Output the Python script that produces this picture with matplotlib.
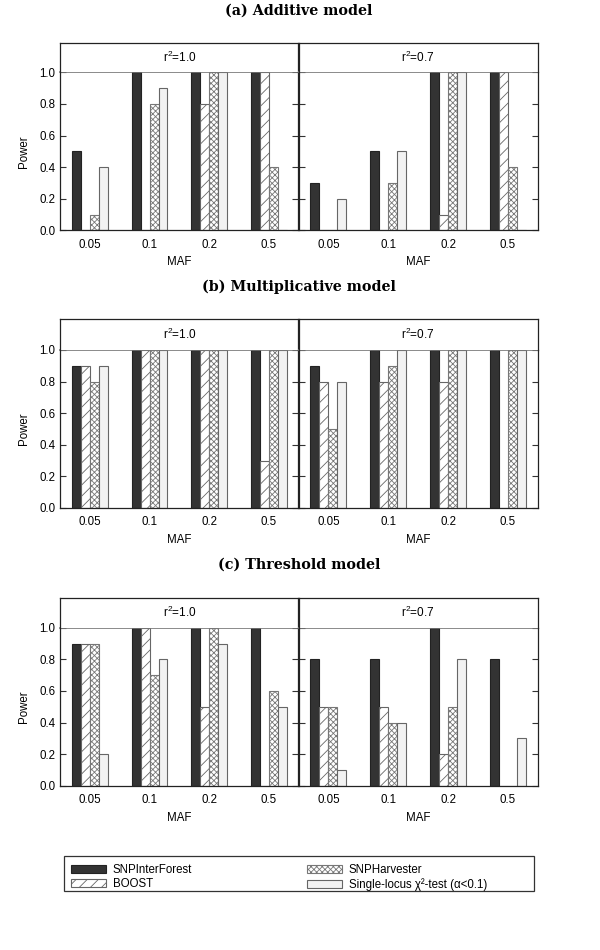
import matplotlib
matplotlib.use("Agg")
import matplotlib.pyplot as plt
from matplotlib.patches import Patch, Rectangle
import numpy as np

plt.rcParams['font.family'] = ['Liberation Sans', 'DejaVu Sans']
plt.rcParams['mathtext.fontset'] = 'custom'
plt.rcParams['mathtext.rm'] = 'Liberation Sans'
plt.rcParams['mathtext.it'] = 'Liberation Sans:italic'
plt.rcParams['hatch.linewidth'] = 0.6

maf_labels = ["0.05", "0.1", "0.2", "0.5"]
methods = ["SNPInterForest", "BOOST", "SNPHarvester", "Single-locus χ²-test (α<0.1)"]
panel_titles = ["(a) Additive model", "(b) Multiplicative model", "(c) Threshold model"]
facet_labels = ["r$^{2}$=1.0", "r$^{2}$=0.7"]

# values[method] per MAF, for r2=1.0 and r2=0.7
additive_r10 = {
    "SNPInterForest": [0.5, 1.0, 1.0, 1.0],
    "BOOST":          [0.0, 0.0, 0.8, 1.0],
    "SNPHarvester":   [0.1, 0.8, 1.0, 0.4],
    "Single":         [0.4, 0.9, 1.0, 0.0],
}
additive_r07 = {
    "SNPInterForest": [0.3, 0.5, 1.0, 1.0],
    "BOOST":          [0.0, 0.0, 0.1, 1.0],
    "SNPHarvester":   [0.0, 0.3, 1.0, 0.4],
    "Single":         [0.2, 0.5, 1.0, 0.0],
}
multiplicative_r10 = {
    "SNPInterForest": [0.9, 1.0, 1.0, 1.0],
    "BOOST":          [0.9, 1.0, 1.0, 0.3],
    "SNPHarvester":   [0.8, 1.0, 1.0, 1.0],
    "Single":         [0.9, 1.0, 1.0, 1.0],
}
multiplicative_r07 = {
    "SNPInterForest": [0.9, 1.0, 1.0, 1.0],
    "BOOST":          [0.8, 0.8, 0.8, 0.0],
    "SNPHarvester":   [0.5, 0.9, 1.0, 1.0],
    "Single":         [0.8, 1.0, 1.0, 1.0],
}
threshold_r10 = {
    "SNPInterForest": [0.9, 1.0, 1.0, 1.0],
    "BOOST":          [0.9, 1.0, 0.5, 0.0],
    "SNPHarvester":   [0.9, 0.7, 1.0, 0.6],
    "Single":         [0.2, 0.8, 0.9, 0.5],
}
threshold_r07 = {
    "SNPInterForest": [0.8, 0.8, 1.0, 0.8],
    "BOOST":          [0.5, 0.5, 0.2, 0.0],
    "SNPHarvester":   [0.5, 0.4, 0.5, 0.0],
    "Single":         [0.1, 0.4, 0.8, 0.3],
}

panels = [
    (additive_r10, additive_r07),
    (multiplicative_r10, multiplicative_r07),
    (threshold_r10, threshold_r07),
]

styles = [
    dict(facecolor="#333333", edgecolor="#222222", hatch=None),
    dict(facecolor="white", edgecolor="#666666", hatch="///"),
    dict(facecolor="white", edgecolor="#777777", hatch="xxxxxx"),
    dict(facecolor="#f2f2f2", edgecolor="#666666", hatch=None),
]
keys = ["SNPInterForest", "BOOST", "SNPHarvester", "Single"]

W, H = 600, 950
fig = plt.figure(figsize=(W / 100, H / 100), dpi=100)

def rect(x0, y0, x1, y1):
    return [x0 / W, 1 - y1 / H, (x1 - x0) / W, (y1 - y0) / H]

# pixel geometry of each panel: (strip top, plot top, plot bottom, title y)
geoms = [(42.7, 72.3, 230.3, 11), (319.3, 350.0, 508.0, 287), (598.0, 627.7, 785.7, 565)]
xl, xm, xr = 60.3, 298.5, 538.0
bw = 0.15
x = np.arange(len(maf_labels))

for (d_left, d_right), title, (st, pt, pb, ty) in zip(panels, panel_titles, geoms):
    fig.text(0.5 * (xl + xr) / W, 1 - ty / H, title, ha="center", va="center",
             fontsize=10.3, family="DejaVu Serif", fontweight="bold")
    for j, (data, flab) in enumerate([(d_left, facet_labels[0]), (d_right, facet_labels[1])]):
        x0, x1 = (xl, xm) if j == 0 else (xm, xr)
        ax = fig.add_axes(rect(x0, pt, x1, pb))
        for k, (key, sty) in enumerate(zip(keys, styles)):
            ax.bar(x + (k - 1.5) * bw, data[key], width=bw, facecolor=sty["facecolor"],
                   edgecolor=sty["edgecolor"], hatch=sty["hatch"], linewidth=0.8)
        ax.set_xlim(-0.5, 3.5)
        ax.set_ylim(0, 1.0)
        ax.set_xticks(x)
        ax.set_xticklabels(maf_labels, fontsize=8.3)
        ax.tick_params(axis="x", length=0, pad=6)
        ax.set_yticks(np.arange(0, 1.01, 0.2))
        ax.tick_params(axis="y", direction="in", length=4, width=0.8, left=True, right=True,
                       labelsize=8.3, color="#333333")
        if j == 0:
            ax.set_yticklabels([f"{v:.1f}" for v in np.arange(0, 1.01, 0.2)])
            ax.set_ylabel("Power", fontsize=8.3, labelpad=7)
        else:
            ax.set_yticklabels([])
        ax.set_xlabel("MAF", fontsize=8.3, labelpad=4)
        for s in ax.spines.values():
            s.set_linewidth(0.9)
            s.set_color("#222222")
        ax.spines["top"].set_color("#777777")
        ax.spines["top"].set_linewidth(1.2)
        # strip
        sax = fig.add_axes(rect(x0, st, x1, pt))
        sax.set_xticks([])
        sax.set_yticks([])
        for s in sax.spines.values():
            s.set_linewidth(0.9)
            s.set_color("#222222")
        sax.spines["bottom"].set_visible(False)
        sax.text(0.5, 0.5, flab, ha="center", va="center", fontsize=8.5, transform=sax.transAxes)

# legend box
fig.patches.append(Rectangle((64 / W, 1 - 891 / H), (534 - 64) / W, 35 / H, transform=fig.transFigure,
                             fill=False, edgecolor="#333333", linewidth=0.9))
handles = [Patch(facecolor=s["facecolor"], edgecolor=s["edgecolor"], hatch=s["hatch"], linewidth=0.8)
           for s in styles]
leg = fig.legend(handles, methods, ncol=2,
                 loc="upper left", bbox_to_anchor=(71 / W, 1 - 864 / H),
                 fontsize=8.3, frameon=False,
                 handlelength=3.0, handleheight=0.65, labelspacing=0.18, handletextpad=0.6,
                 columnspacing=10.0, borderpad=0.0, borderaxespad=0)

fig.savefig("out.png", dpi=100)
